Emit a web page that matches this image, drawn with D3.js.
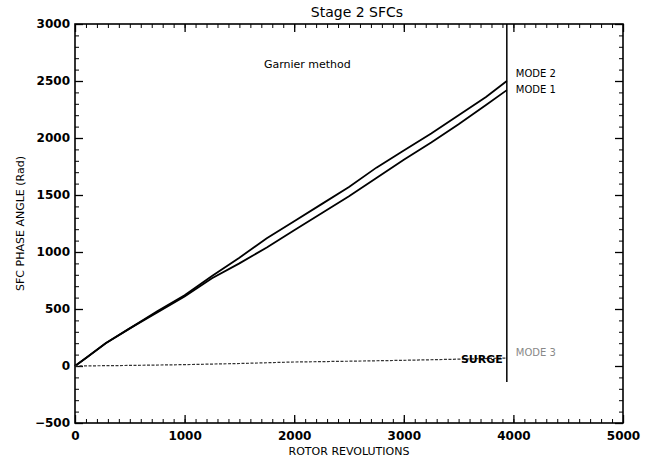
<!DOCTYPE html>
<html>
<head>
<meta charset="utf-8">
<script src="https://cdn.jsdelivr.net/npm/d3@7"></script>
<style>
	body { margin: 0; background: #fff; }
	text { font-family: "DejaVu Sans", sans-serif; fill: #000; }
</style>
</head>
<body>
<svg id="chart"></svg>
<script>
// rotor revolutions at which each mode was sampled
const revs = [0, 100, 280, 500, 750, 1000, 1250, 1500, 1750, 2000, 2250, 2500, 2750, 3000, 3250, 3500, 3750, 3940];
const mode2 = [0, 70, 200, 330, 480, 620, 790, 950, 1120, 1270, 1420, 1570, 1740, 1890, 2040, 2200, 2360, 2500];
const mode1 = [0, 70, 200, 330, 470, 610, 770, 900, 1040, 1190, 1340, 1490, 1650, 1810, 1960, 2120, 2290, 2420];
const mode3Revs = [0, 500, 1000, 1500, 2000, 2500, 3000, 3500, 3940];
const mode3 = [0, 5, 12, 22, 35, 42, 50, 60, 70];
const surgeRev = 3940;
const xTicks = [0, 1000, 2000, 3000, 4000, 5000];
const yTicks = [-500, 0, 500, 1000, 1500, 2000, 2500, 3000];

const W = 648, H = 465;
const margin = { left: 75, right: 25, top: 24, bottom: 42 };
const width = W - margin.left - margin.right;
const height = H - margin.top - margin.bottom;

const svg = d3.select("#chart").attr("width", W).attr("height", H);
const g = svg.append("g").attr("transform", "translate(" + margin.left + "," + margin.top + ")");

const x = d3.scaleLinear().domain([0, 5000]).range([0, width]);
const y = d3.scaleLinear().domain([-500, 3000]).range([height, 0]);

// ticks every 100 units, longer at labelled values, all pointing inwards
function ticks(axisFn, scale, labelled, pad, transform) {
	const minor = d3.range(scale.domain()[0], scale.domain()[1] + 1, 100);
	g.append("g").attr("transform", transform)
		.call(axisFn(scale).tickValues(minor).tickSizeInner(-4).tickSizeOuter(0).tickFormat(""))
		.call(s => s.select(".domain").remove());
	const a = g.append("g").attr("transform", transform)
		.call(axisFn(scale).tickValues(labelled).tickSizeInner(-8).tickSizeOuter(0)
			.tickPadding(pad).tickFormat(pad ? d3.format("d") : ""))
		.call(s => s.select(".domain").remove());
	a.selectAll("text").style("font-size", "12px").style("font-weight", "bold");
	a.selectAll("line").attr("stroke-width", 1.3);
}
ticks(d3.axisBottom, x, xTicks, 8, "translate(0," + height + ")");
ticks(d3.axisTop, x, xTicks, 0, "translate(0,0)");
ticks(d3.axisLeft, y, yTicks, 5, "translate(0,0)");
ticks(d3.axisRight, y, yTicks, 0, "translate(" + width + ",0)");

g.append("rect")
	.attr("width", width).attr("height", height)
	.attr("fill", "none").attr("stroke", "#000").attr("stroke-width", 1.6);

const line = d3.line().x(d => x(d[0])).y(d => y(d[1]));

g.append("path")
	.datum(revs.map((r, i) => [r, mode2[i]]))
	.attr("fill", "none").attr("stroke", "#000").attr("stroke-width", 1.8)
	.attr("d", line);

g.append("path")
	.datum(revs.map((r, i) => [r, mode1[i]]))
	.attr("fill", "none").attr("stroke", "#000").attr("stroke-width", 1.8)
	.attr("d", line);

g.append("path")
	.datum(mode3Revs.map((r, i) => [r, mode3[i]]))
	.attr("fill", "none").attr("stroke", "#333").attr("stroke-width", 1.2)
	.attr("stroke-dasharray", "3,1.5")
	.attr("d", line);

// surge marker
g.append("line")
	.attr("x1", x(surgeRev)).attr("x2", x(surgeRev))
	.attr("y1", y(3000)).attr("y2", y(-140))
	.attr("stroke", "#000").attr("stroke-width", 1.5);

g.append("text")
	.attr("x", x(surgeRev) - 4).attr("y", y(mode3[mode3.length - 1]) + 5)
	.attr("text-anchor", "end").style("font-size", "11px").style("font-weight", "bold")
	.text("SURGE");

const labX = x(surgeRev) + 9;
g.append("text").attr("x", labX).attr("y", y(2500) - 4)
	.style("font-size", "10px").text("MODE 2");
g.append("text").attr("x", labX).attr("y", y(2420) + 3)
	.style("font-size", "10px").text("MODE 1");
g.append("text").attr("x", labX).attr("y", y(85))
	.style("font-size", "10px").style("fill", "#888").text("MODE 3");

g.append("text")
	.attr("x", x(2120)).attr("y", y(2610))
	.attr("text-anchor", "middle").style("font-size", "11px")
	.text("Garnier method");

svg.append("text")
	.attr("x", margin.left + width / 2 + 8).attr("y", 17)
	.attr("text-anchor", "middle").style("font-size", "14px")
	.text("Stage 2 SFCs");

svg.append("text")
	.attr("x", margin.left + width / 2).attr("y", 455)
	.attr("text-anchor", "middle").style("font-size", "11px")
	.text("ROTOR REVOLUTIONS");

svg.append("text")
	.attr("transform", "translate(24," + (margin.top + height / 2) + ") rotate(-90)")
	.attr("text-anchor", "middle").style("font-size", "11px")
	.text("SFC PHASE ANGLE (Rad)");
</script>
</body>
</html>
